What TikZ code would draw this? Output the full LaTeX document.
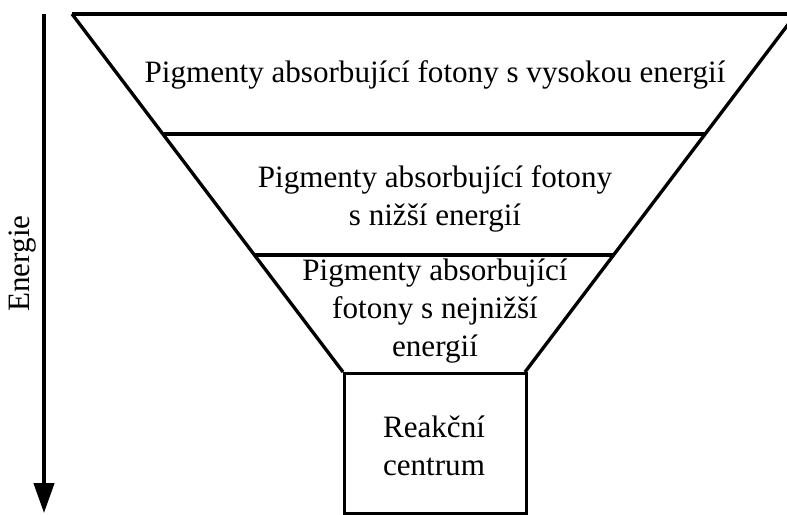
\documentclass[tikz,border=0pt]{standalone}
\usepackage{fontspec}
\setmainfont{Liberation Serif}
\usetikzlibrary{arrows.meta, positioning, calc}

\begin{document}
\begin{tikzpicture}[
    x=0.02cm, y=-0.02cm,
    edge/.style={line width=1.9pt, line join=miter},
    txt/.style={font=\fontsize{17.7}{21.5}\selectfont, align=center},
    arr/.style={-{Triangle[length=17pt, width=11.5pt]}, line width=2pt}
]
\useasboundingbox (0,0) rectangle (787,514);
% Funnel corners, top to bottom
\coordinate (l0) at (72,14);   \coordinate (r0) at (796,14);
\coordinate (l1) at (163,134); \coordinate (r1) at (705,134);
\coordinate (l2) at (254,255); \coordinate (r2) at (614,255);
\coordinate (l3) at (343,372); \coordinate (r3) at (525,372);

\draw[edge] (l0) -- (r0);
\draw[edge] (l0) -- (l3);
\draw[edge] (r0) -- (r3);
\draw[edge] (l1) -- (r1);
\draw[edge] (l2) -- (r2);

% Bands of pigments
\node[txt] (high) at (435,75) {Pigmenty absorbující fotony s vysokou energií};
\node[txt] (low) at (435,199) {Pigmenty absorbující fotony\\s nižší energií};
\node[txt] (lowest) at (435,311) {Pigmenty absorbující\\fotony s nejnižší\\energií};

% Reaction centre
\node[draw, edge, minimum width=3.64cm, minimum height=2.8cm, anchor=north west] (rc) at (l3) {};
\node[txt] (rctxt) at (434,446) {Reakční\\centrum};

% Energy axis
\coordinate (etop) at (44,14);
\coordinate (ebot) at (44,513);
\draw[arr] (etop) -- node[midway, above, rotate=90, txt] (en) {Energie} (ebot);
\end{tikzpicture}
\end{document}
